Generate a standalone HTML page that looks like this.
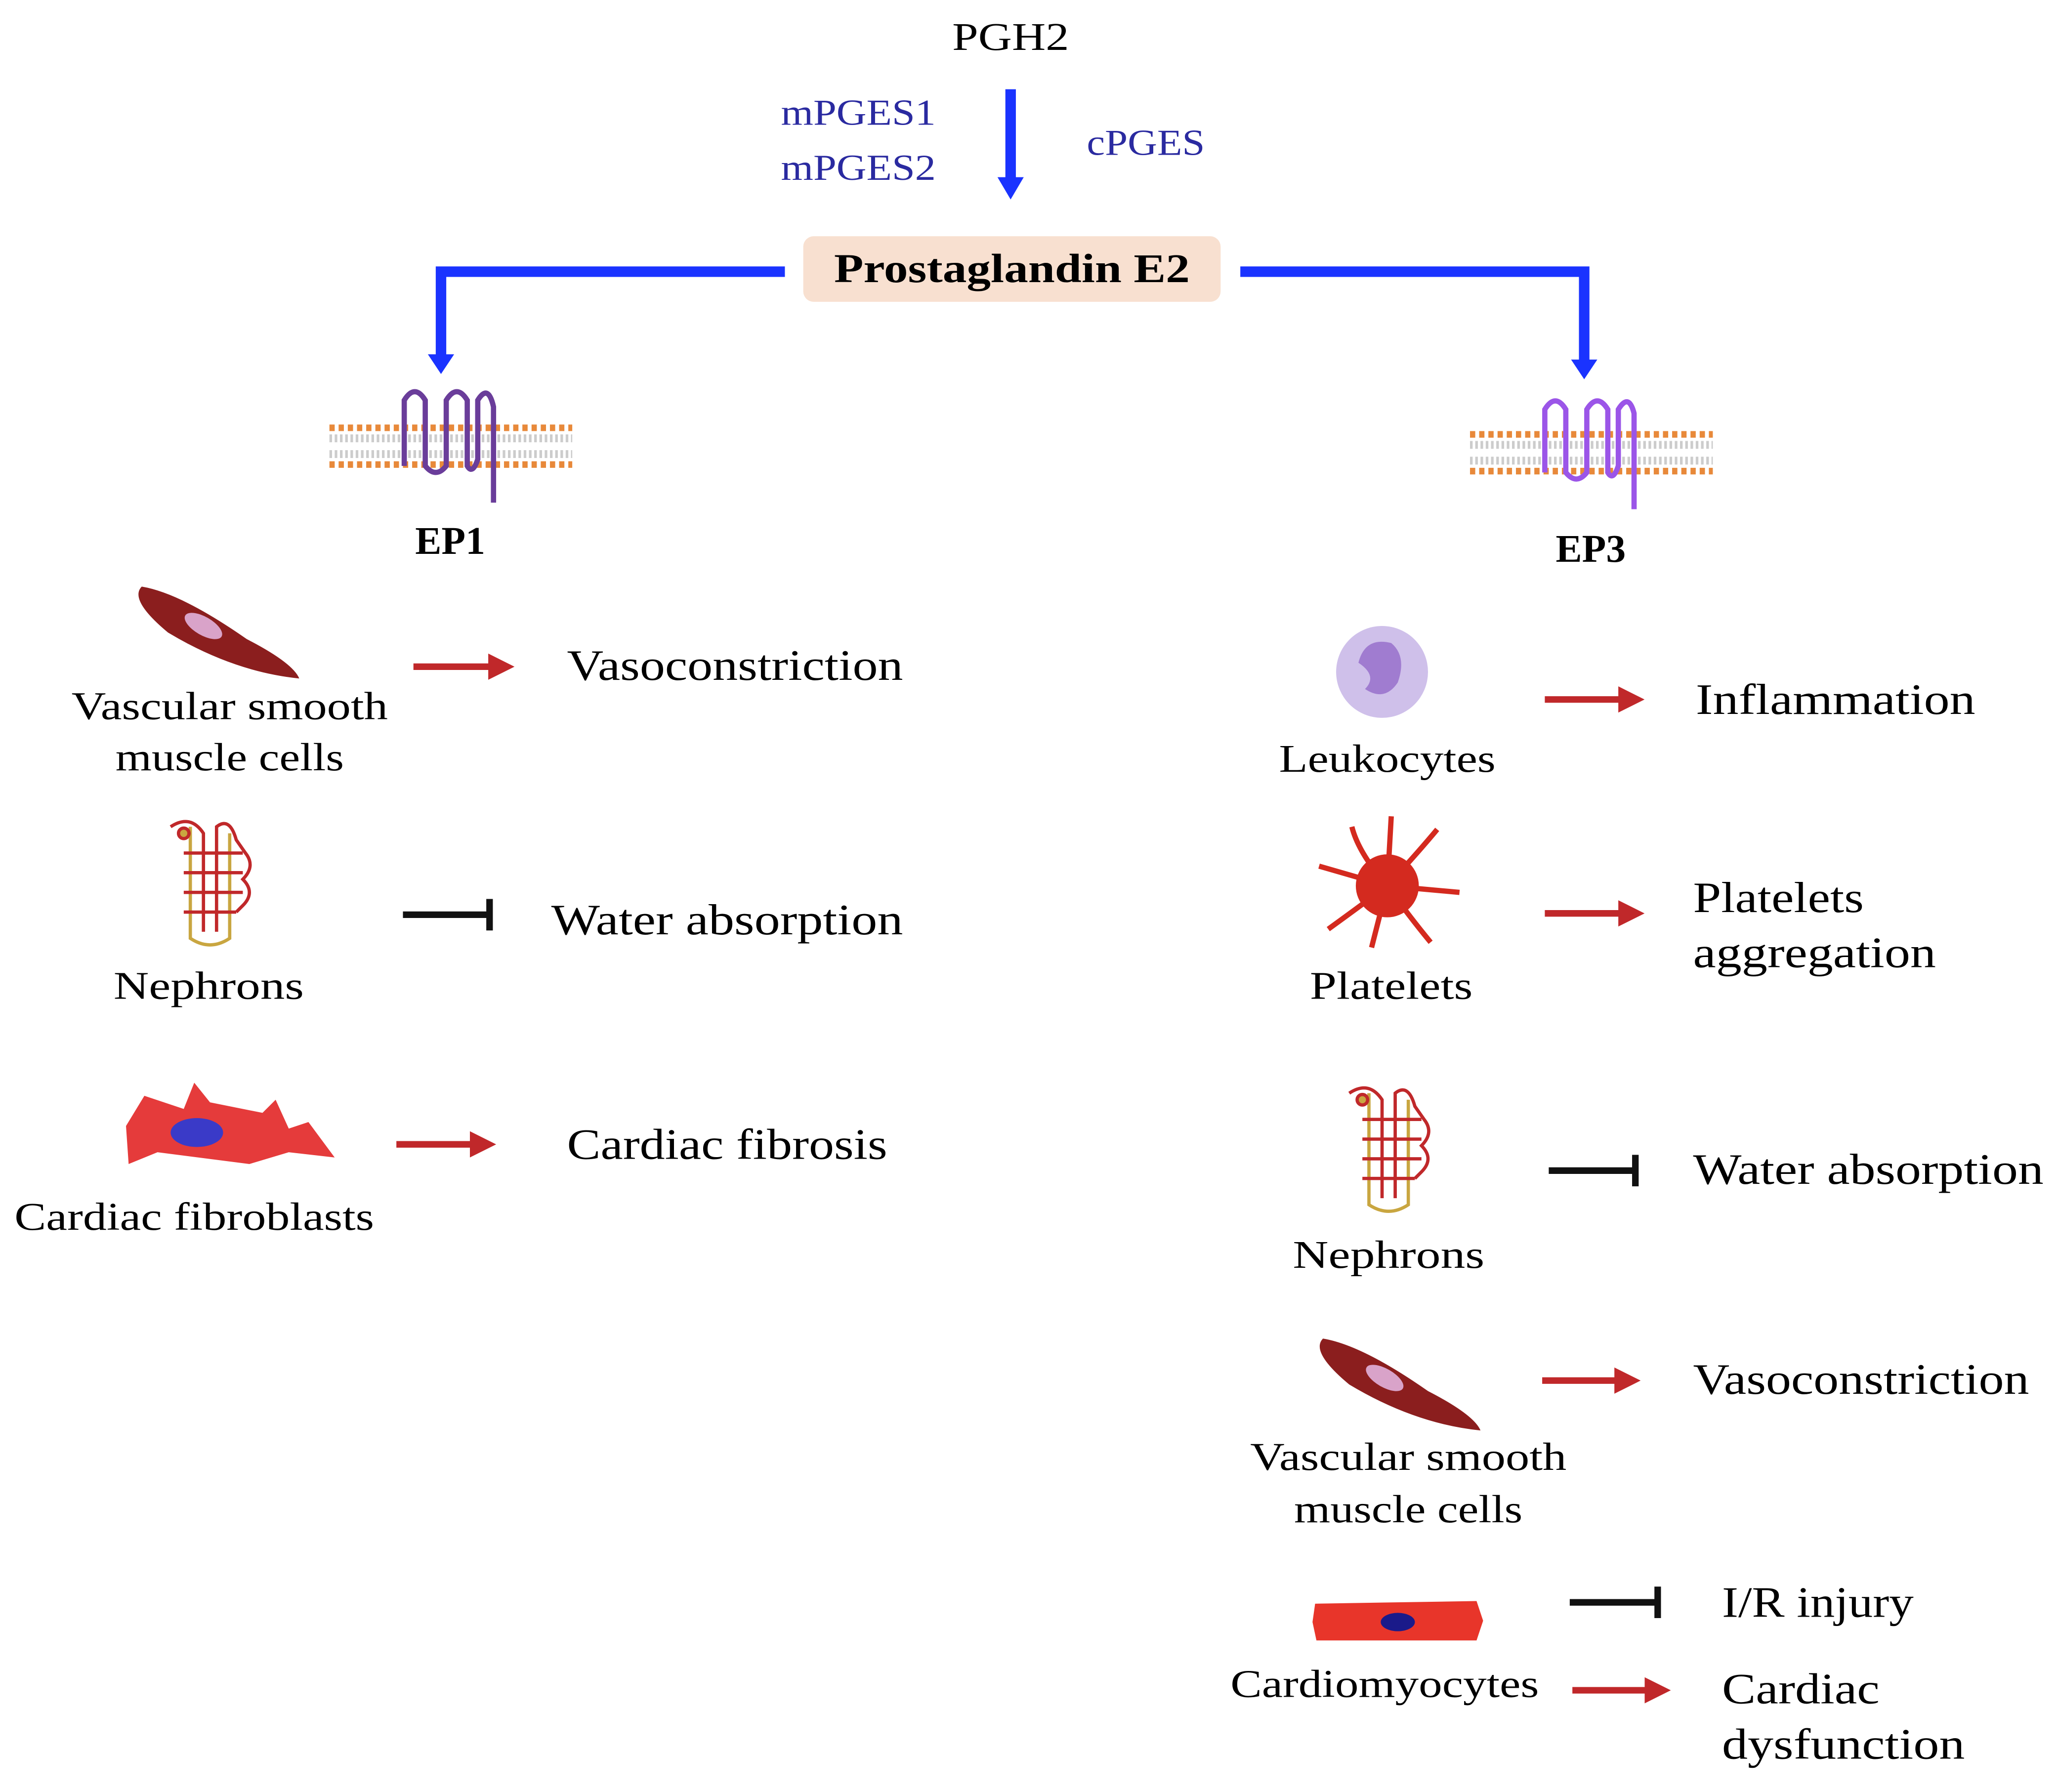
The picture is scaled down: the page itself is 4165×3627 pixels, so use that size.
<!DOCTYPE html>
<html><head><meta charset="utf-8"><style>
html,body{margin:0;padding:0;background:#fff;}
svg{display:block;}
text{font-family:"Liberation Serif",serif;}
</style></head><body>
<svg width="4165" height="3627" viewBox="0 0 1568 1365.5" preserveAspectRatio="none" xmlns="http://www.w3.org/2000/svg">
<defs>
<marker id="rb" markerWidth="4" markerHeight="4" refX="2" refY="2" orient="auto" markerUnits="strokeWidth"><path d="M0,0 L4,2 L0,4 z" fill="#c0282a"/></marker>
<g id="mem">
<line x1="0" y1="0" x2="185" y2="0" stroke="#e8893a" stroke-width="5" stroke-dasharray="4,3"/>
<line x1="0" y1="28" x2="185" y2="28" stroke="#e8893a" stroke-width="5" stroke-dasharray="4,3"/>
<path d="M0,8 L185,8 M0,20 L185,20" stroke="#ccc" stroke-width="6" stroke-dasharray="2,2"/>
</g>
<g id="neph" fill="none" stroke-width="2.5">
<path d="M20,10 L20,95 Q35,105 50,95 L50,15" stroke="#c9a640"/>
<path d="M5,10 Q20,0 30,15 L30,90 M40,90 L40,10 Q50,2 55,20 L62,30 Q70,40 60,50 Q70,60 60,70 L55,75" stroke="#c0282a"/>
<path d="M15,30 H60 M15,45 H60 M15,60 H60 M15,75 H55" stroke="#c0282a"/>
<circle cx="15" cy="15" r="4" fill="#c9a640" stroke="#c0282a"/>
</g>
<g id="vsmc">
<path d="M0,0 Q-10,10 20,35 Q70,65 120,70 Q115,58 80,40 Q30,5 0,0 z" fill="#8b1e1e"/>
<ellipse cx="47" cy="30" rx="16" ry="7" fill="#d9a3c9" transform="rotate(30 47 30)"/>
</g>
</defs>

<text x="770" y="38" font-size="30" text-anchor="middle" textLength="89" lengthAdjust="spacingAndGlyphs">PGH2</text>
<line x1="770" y1="68" x2="770" y2="138" stroke="#1a33ff" stroke-width="8"/>
<path d="M760,135 L780,135 L770,152 z" fill="#1a33ff"/>
<text x="654" y="95" font-size="28" text-anchor="middle" fill="#2a2aa0" textLength="118" lengthAdjust="spacingAndGlyphs">mPGES1</text>
<text x="654" y="137" font-size="28" text-anchor="middle" fill="#2a2aa0" textLength="118" lengthAdjust="spacingAndGlyphs">mPGES2</text>
<text x="873" y="118" font-size="28" text-anchor="middle" fill="#2a2aa0" textLength="90" lengthAdjust="spacingAndGlyphs">cPGES</text>

<rect x="612" y="180" width="318" height="50" rx="8" fill="#f8e0d0"/>
<text x="771" y="215" font-size="31" font-weight="bold" text-anchor="middle" textLength="271" lengthAdjust="spacingAndGlyphs">Prostaglandin E2</text>

<path d="M598,207 H336 V272" fill="none" stroke="#1a33ff" stroke-width="8"/>
<path d="M326,270 L346,270 L336,285 z" fill="#1a33ff"/>
<path d="M945,207 H1207 V276" fill="none" stroke="#1a33ff" stroke-width="8"/>
<path d="M1197,274 L1217,274 L1207,289 z" fill="#1a33ff"/>

<use href="#mem" x="251" y="326"/>
<path d="M308,355 V305 Q316,292 324,305 V355 Q332,365 340,355 V305 Q348,292 356,305 V355 Q360,362 364,350 V305 Q372,292 376,310 V383" fill="none" stroke="#6a3d9a" stroke-width="4"/>
<text x="343" y="422" font-size="30" font-weight="bold" text-anchor="middle">EP1</text>

<use href="#mem" x="1120" y="331"/>
<path d="M1177,360 V312 Q1185,299 1193,312 V360 Q1201,370 1209,360 V312 Q1217,299 1225,312 V360 Q1229,367 1233,355 V312 Q1241,299 1245,315 V388" fill="none" stroke="#9b55e8" stroke-width="4"/>
<text x="1212" y="428" font-size="30" font-weight="bold" text-anchor="middle">EP3</text>

<!-- Left -->
<use href="#vsmc" x="108" y="447"/>
<text x="175" y="548" font-size="30" text-anchor="middle" textLength="241" lengthAdjust="spacingAndGlyphs">Vascular smooth</text>
<text x="175" y="587" font-size="30" text-anchor="middle" textLength="174" lengthAdjust="spacingAndGlyphs">muscle cells</text>
<line x1="315" y1="508" x2="382" y2="508" stroke="#c0282a" stroke-width="5" marker-end="url(#rb)"/>
<text x="432" y="518" font-size="33" textLength="256" lengthAdjust="spacingAndGlyphs">Vasoconstriction</text>

<use href="#neph" x="125" y="620"/>
<text x="159" y="761" font-size="30" text-anchor="middle" textLength="145" lengthAdjust="spacingAndGlyphs">Nephrons</text>
<line x1="307" y1="697" x2="373" y2="697" stroke="#111" stroke-width="5"/>
<line x1="373" y1="685" x2="373" y2="709" stroke="#111" stroke-width="5"/>
<text x="420" y="712" font-size="33" textLength="268" lengthAdjust="spacingAndGlyphs">Water absorption</text>

<path d="M96,858 L110,835 L140,845 L148,825 L160,840 L200,848 L210,838 L220,860 L235,855 L255,882 L220,878 L190,887 L120,878 L98,887 z" fill="#e53b3b"/>
<ellipse cx="150" cy="863" rx="20" ry="11" fill="#3a3ac8"/>
<text x="148" y="937" font-size="30" text-anchor="middle" textLength="274" lengthAdjust="spacingAndGlyphs">Cardiac fibroblasts</text>
<line x1="302" y1="872" x2="368" y2="872" stroke="#c0282a" stroke-width="5" marker-end="url(#rb)"/>
<text x="432" y="883" font-size="33" textLength="244" lengthAdjust="spacingAndGlyphs">Cardiac fibrosis</text>

<!-- Right -->
<circle cx="1053" cy="512" r="35" fill="#cfc0ea"/>
<path d="M1035,505 Q1040,485 1060,490 Q1072,500 1065,520 Q1055,535 1040,525 Q1050,515 1035,505 z" fill="#a07cd0"/>
<text x="1057" y="588" font-size="30" text-anchor="middle" textLength="165" lengthAdjust="spacingAndGlyphs">Leukocytes</text>
<line x1="1177" y1="533" x2="1243" y2="533" stroke="#c0282a" stroke-width="5" marker-end="url(#rb)"/>
<text x="1292" y="544" font-size="33" textLength="213" lengthAdjust="spacingAndGlyphs">Inflammation</text>

<g stroke="#d42a1f" stroke-width="4" fill="none">
<path d="M1057,675 Q1035,650 1030,630 M1057,675 L1060,622 M1057,675 Q1080,650 1095,632 M1057,675 L1112,680 M1057,675 Q1075,700 1090,718 M1057,675 L1045,722 M1057,675 Q1030,695 1012,708 M1057,675 L1005,660"/>
</g>
<circle cx="1057" cy="675" r="24" fill="#d42a1f"/>
<text x="1060" y="761" font-size="30" text-anchor="middle" textLength="124" lengthAdjust="spacingAndGlyphs">Platelets</text>
<line x1="1177" y1="696" x2="1243" y2="696" stroke="#c0282a" stroke-width="5" marker-end="url(#rb)"/>
<text x="1290" y="695" font-size="33" textLength="130" lengthAdjust="spacingAndGlyphs">Platelets</text>
<text x="1290" y="737" font-size="33" textLength="185" lengthAdjust="spacingAndGlyphs">aggregation</text>

<use href="#neph" x="1023" y="823"/>
<text x="1058" y="966" font-size="30" text-anchor="middle" textLength="146" lengthAdjust="spacingAndGlyphs">Nephrons</text>
<line x1="1180" y1="892" x2="1246" y2="892" stroke="#111" stroke-width="5"/>
<line x1="1246" y1="880" x2="1246" y2="904" stroke="#111" stroke-width="5"/>
<text x="1290" y="902" font-size="33" textLength="267" lengthAdjust="spacingAndGlyphs">Water absorption</text>

<use href="#vsmc" x="1008" y="1020"/>
<text x="1073" y="1120" font-size="30" text-anchor="middle" textLength="241" lengthAdjust="spacingAndGlyphs">Vascular smooth</text>
<text x="1073" y="1160" font-size="30" text-anchor="middle" textLength="174" lengthAdjust="spacingAndGlyphs">muscle cells</text>
<line x1="1175" y1="1052" x2="1240" y2="1052" stroke="#c0282a" stroke-width="5" marker-end="url(#rb)"/>
<text x="1290" y="1062" font-size="33" textLength="256" lengthAdjust="spacingAndGlyphs">Vasoconstriction</text>

<path d="M1002,1222 L1125,1220 L1130,1235 L1125,1250 L1003,1250 L1000,1236 z" fill="#e8352a"/>
<ellipse cx="1065" cy="1236" rx="13" ry="7" fill="#1a1a8a"/>
<text x="1055" y="1293" font-size="30" text-anchor="middle" textLength="235" lengthAdjust="spacingAndGlyphs">Cardiomyocytes</text>
<line x1="1196" y1="1221" x2="1263" y2="1221" stroke="#111" stroke-width="5"/>
<line x1="1263" y1="1209" x2="1263" y2="1233" stroke="#111" stroke-width="5"/>
<text x="1312" y="1232" font-size="33" textLength="146" lengthAdjust="spacingAndGlyphs">I/R injury</text>
<line x1="1198" y1="1288" x2="1263" y2="1288" stroke="#c0282a" stroke-width="5" marker-end="url(#rb)"/>
<text x="1312" y="1298" font-size="33" textLength="120" lengthAdjust="spacingAndGlyphs">Cardiac</text>
<text x="1312" y="1340" font-size="33" textLength="185" lengthAdjust="spacingAndGlyphs">dysfunction</text>
</svg>
</body></html>
